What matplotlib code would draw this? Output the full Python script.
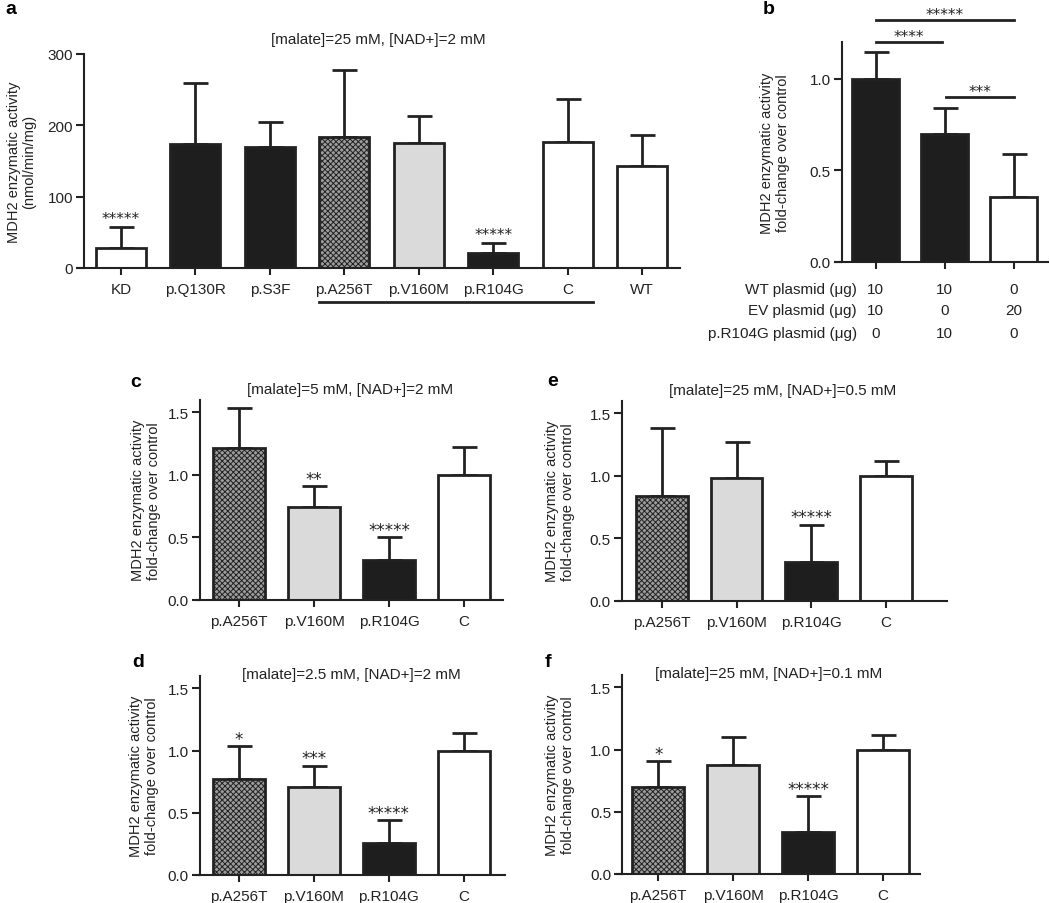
import matplotlib
matplotlib.use("Agg")
import matplotlib.pyplot as plt
import numpy as np

plt.rcParams['font.family'] = ['Liberation Sans', 'DejaVu Sans']
plt.rcParams['hatch.linewidth'] = 0.7
plt.rcParams['axes.linewidth'] = 1.5

# panel a
a_labels = ['KD', 'p.Q130R', 'p.S3F', 'p.A256T', 'p.V160M', 'p.R104G', 'C', 'WT']
a_mean = [28, 174, 170, 184, 175, 21, 177, 143]
a_err = [29, 86, 34, 93, 38, 14, 60, 44]
a_stars = ['*****', '', '', '', '', '*****', '', '']
a_style = ['white', 'dark', 'dark', 'check', 'light', 'dark', 'white', 'white']

# panel b
b_mean = [1.0, 0.70, 0.355]
b_err = [0.145, 0.14, 0.235]
b_style = ['dark', 'dark', 'white']
b_rows = ['WT plasmid (\u03bcg)', 'EV plasmid (\u03bcg)', 'p.R104G plasmid (\u03bcg)']
b_wt = ['10', '10', '0']
b_ev = ['10', '0', '20']
b_mut = ['0', '10', '0']
b_sig = [(0, 2, 1.32, '*****'), (0, 0.96, 1.20, '****'), (1.02, 2, 0.90, '***')]

# panels c-f
cf_labels = ['p.A256T', 'p.V160M', 'p.R104G', 'C']
cf_style = ['check', 'light', 'dark', 'white']
c_mean = [1.21, 0.74, 0.32, 1.0]
c_err = [0.32, 0.17, 0.18, 0.22]
c_stars = ['', '**', '*****', '']
d_mean = [0.77, 0.71, 0.26, 1.0]
d_err = [0.27, 0.17, 0.18, 0.14]
d_stars = ['*', '***', '*****', '']
e_mean = [0.84, 0.98, 0.31, 1.0]
e_err = [0.54, 0.29, 0.30, 0.12]
e_stars = ['', '', '*****', '']
f_mean = [0.70, 0.875, 0.34, 1.0]
f_err = [0.21, 0.23, 0.29, 0.12]
f_stars = ['*', '', '*****', '']

W, H = 1050, 904
fig = plt.figure(figsize=(W / 100, H / 100), dpi=100)

DARK = '#1e1e1e'
INK = '#222222'


def px_axes(left, right, top, bottom):
    return fig.add_axes([left / W, 1 - bottom / H, (right - left) / W, (bottom - top) / H])


def style_axes(ax, spine_x):
    ax.spines['top'].set_visible(False)
    ax.spines['right'].set_visible(False)
    ax.spines['left'].set_position(('data', spine_x))
    ax.spines['left'].set_color(INK)
    ax.spines['bottom'].set_color(INK)
    ax.tick_params(axis='y', length=6, width=1.5, pad=2, labelsize=11, colors=INK)
    ax.tick_params(axis='x', length=5, width=1.5, pad=5, labelsize=11, colors=INK)


def draw_bars(ax, mean, err, styles, width=0.68):
    x = np.arange(len(mean))
    for i, (m, s) in enumerate(zip(mean, styles)):
        if s == 'dark':
            kw = dict(color=DARK)
        elif s == 'light':
            kw = dict(color='#dadada')
        elif s == 'check':
            kw = dict(color='#9c9c9c', hatch='xxxxxx')
        else:
            kw = dict(color='white')
        ax.bar(x[i], m, width=width, edgecolor=INK, linewidth=2.0, zorder=2, **kw)
    # upper error bars only
    ax.errorbar(x, mean, yerr=[np.zeros(len(err)), err], fmt='none', ecolor=INK,
                elinewidth=2.0, capsize=9, capthick=2.0, zorder=1)
    return x


def draw_stars(ax, x, mean, err, stars, size, off):
    for xi, m, e, s in zip(x, mean, err, stars):
        if s:
            ax.annotate(s, (xi, m + e), xytext=(0, off), textcoords='offset points',
                        ha='center', va='baseline', fontsize=size, color=INK,
                        family='DejaVu Sans')


# ---- panel a ----
ax = px_axes(77, 680, 55, 269)
x = draw_bars(ax, a_mean, a_err, a_style, width=0.67)
draw_stars(ax, x, a_mean, a_err, a_stars, 11, 3)
ax.set_xlim(-0.59, 7.51)
ax.set_ylim(0, 300)
ax.set_yticks([0, 100, 200, 300])
ax.set_xticks(x)
ax.set_xticklabels(a_labels)
style_axes(ax, -0.495)
ax.plot([2.66, 6.34], [-0.16, -0.16], transform=ax.get_xaxis_transform(),
        color=INK, lw=2, clip_on=False)
ax.text(0.5, 1.07, '[malate]=25 mM, [NAD+]=2 mM', transform=ax.transAxes,
        ha='center', va='center', fontsize=11, color=INK)
fig.text(22 / W, 1 - 162 / H, 'MDH2 enzymatic activity\n(nmol/min/mg)', rotation=90,
         ha='center', va='center', fontsize=10.5, color=INK, linespacing=1.1)
fig.text(5 / W, 1 - 10 / H, 'a', fontsize=14, fontweight='bold', ha='left', va='center')

# ---- panel b ----
ax = px_axes(835, 1048, 43, 263)
x = draw_bars(ax, b_mean, b_err, b_style, width=0.68)
ax.set_xlim(-0.59, 2.50)
ax.set_ylim(0, 1.2)
ax.set_yticks([0, 0.5, 1.0])
ax.set_yticklabels(['0.0', '0.5', '1.0'])
ax.set_xticks(x)
ax.set_xticklabels([])
style_axes(ax, -0.49)
for x0, x1, y, s in b_sig:
    ax.plot([x0, x1], [y, y], color=INK, lw=2, clip_on=False)
    ax.annotate(s, ((x0 + x1) / 2, y), xytext=(0, 0.5), textcoords='offset points',
                ha='center', va='baseline', fontsize=11, color=INK,
                family='DejaVu Sans', annotation_clip=False)
trans = ax.get_xaxis_transform()
for row, vals, ypx in zip(b_rows, [b_wt, b_ev, b_mut], [290, 311, 334]):
    yax = (263 - ypx) / 220
    ax.text(-0.27, yax, row, transform=trans, ha='right', va='center', fontsize=11,
            color=INK, clip_on=False)
    for xi, v in zip(x, vals):
        ax.text(xi, yax, v, transform=trans, ha='center', va='center', fontsize=11,
                color=INK, clip_on=False)
fig.text(775 / W, 1 - 153 / H, 'MDH2 enzymatic activity\nfold-change over control',
         rotation=90, ha='center', va='center', fontsize=10.5, color=INK, linespacing=1.1)
fig.text(763 / W, 1 - 9 / H, 'b', fontsize=14, fontweight='bold', ha='left', va='center')

# ---- panels c-f ----
panels = [
    ('c', '[malate]=5 mM, [NAD+]=2 mM', c_mean, c_err, c_stars,
     (197, 503, 400.5, 601), (-0.56, 3.52), -0.52, 1.68, (130, 383), 146),
    ('d', '[malate]=2.5 mM, [NAD+]=2 mM', d_mean, d_err, d_stars,
     (197, 505, 677, 876), (-0.56, 3.55), -0.52, 1.62, (132, 663), 144),
    ('e', '[malate]=25 mM, [NAD+]=0.5 mM', e_mean, e_err, e_stars,
     (618, 947, 401.5, 602), (-0.59, 3.82), -0.54, 1.68, (547, 382), 560),
    ('f', '[malate]=25 mM, [NAD+]=0.1 mM', f_mean, f_err, f_stars,
     (617, 920, 676, 875), (-0.55, 3.49), -0.48, 1.62, (545, 663), 560),
]
for letter, title, mean, err, stars, box, xlim, spx, ty, lpos, ylx in panels:
    l, r, t, b = box
    ax = px_axes(l, r, t, b)
    x = draw_bars(ax, mean, err, cf_style, width=0.69)
    draw_stars(ax, x, mean, err, stars, 12, 1.5)
    ax.set_xlim(*xlim)
    ax.set_ylim(0, 1.6)
    ax.set_yticks([0, 0.5, 1.0, 1.5])
    ax.set_yticklabels(['0.0', '0.5', '1.0', '1.5'])
    ax.set_xticks(x)
    ax.set_xticklabels(cf_labels)
    style_axes(ax, spx)
    ax.text(sum(xlim) / 2, ty, title, ha='center', va='center', fontsize=11, color=INK,
            clip_on=False)
    fig.text(ylx / W, 1 - (t + b) / 2 / H, 'MDH2 enzymatic activity\nfold-change over control',
             rotation=90, ha='center', va='center', fontsize=10.5, color=INK, linespacing=1.1)
    fig.text(lpos[0] / W, 1 - lpos[1] / H, letter, fontsize=14, fontweight='bold',
             ha='left', va='center')

fig.savefig('out.png', dpi=100)
